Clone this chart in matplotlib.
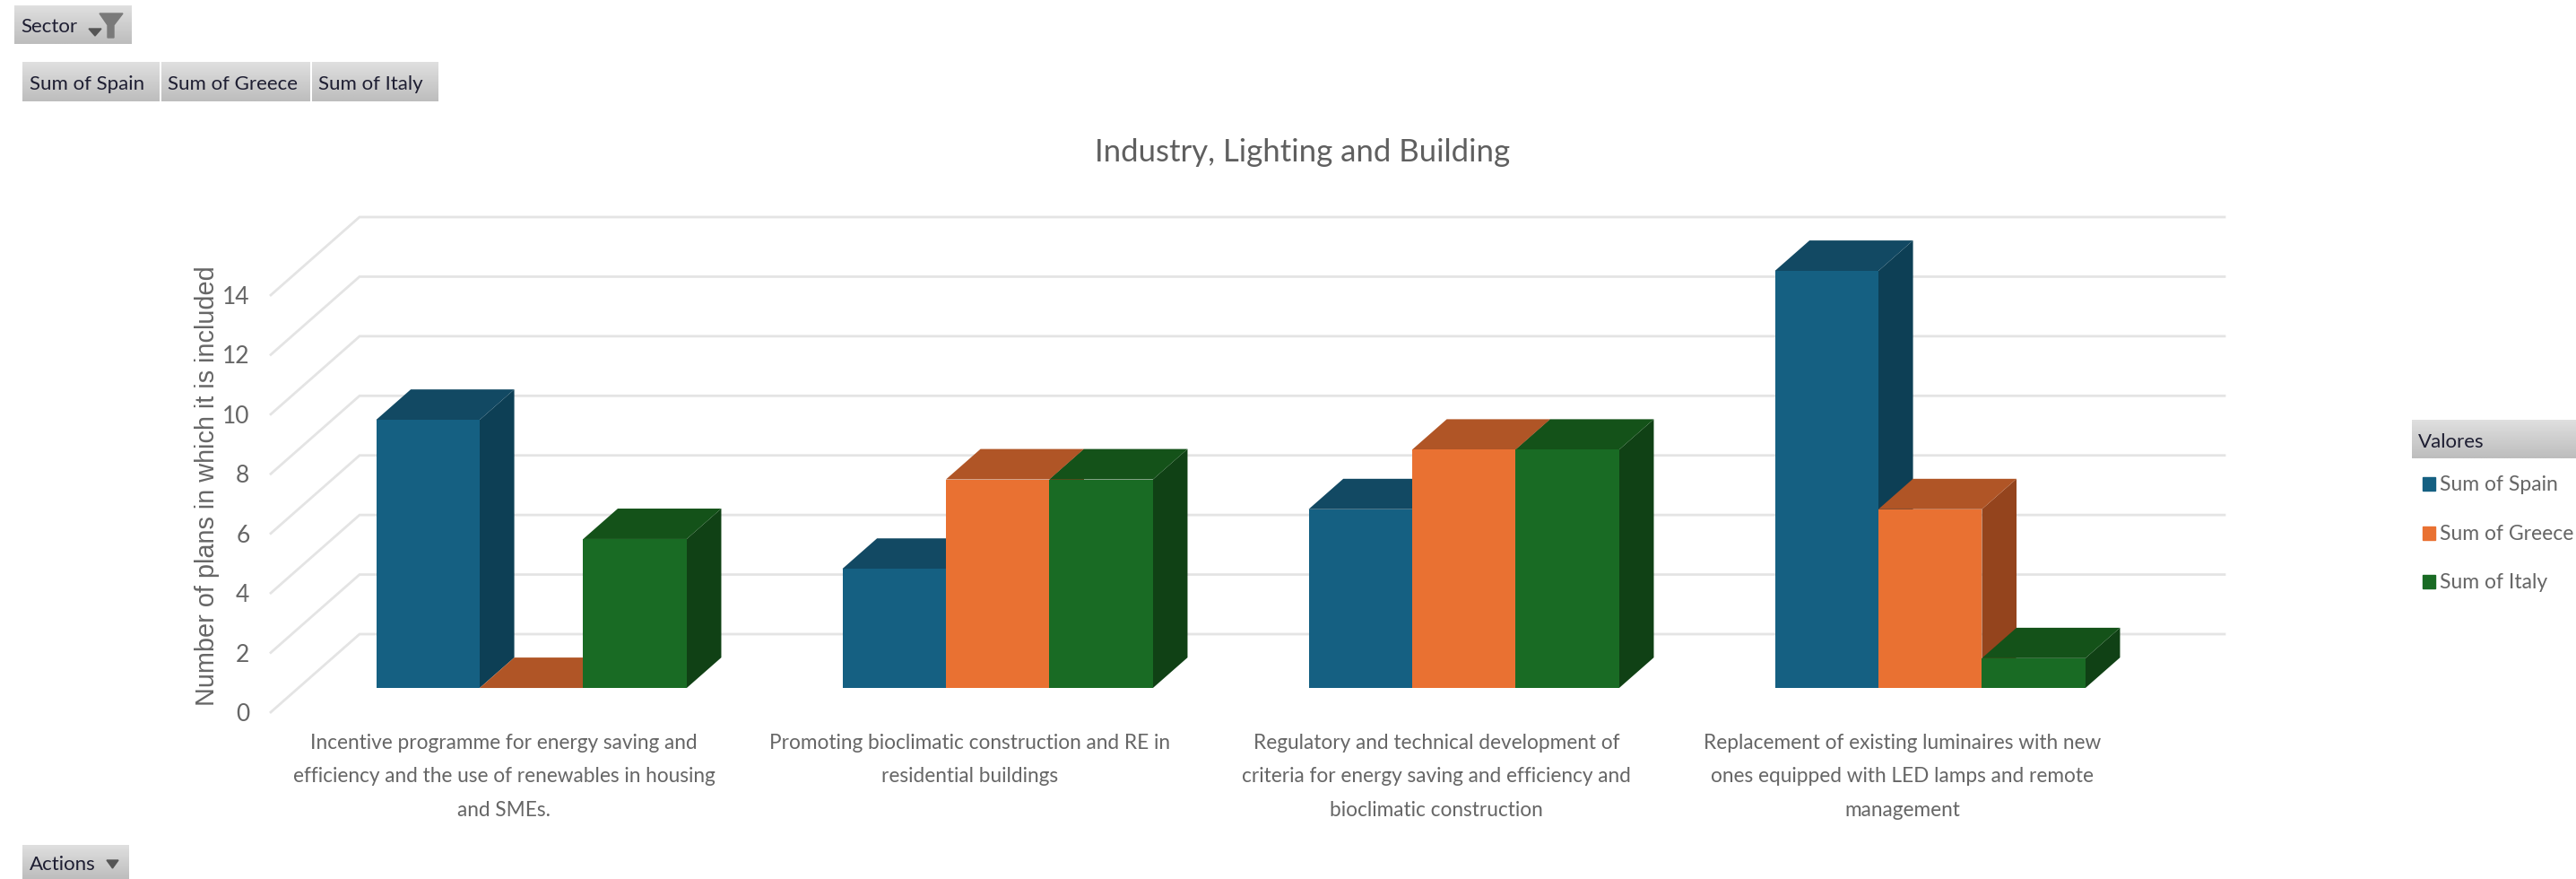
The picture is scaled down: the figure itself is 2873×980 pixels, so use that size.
import numpy as np
import matplotlib
matplotlib.use("Agg")
import matplotlib.pyplot as plt
from matplotlib.patches import Polygon, Rectangle

# Pivot data: number of plans including each action
categories = [
    "Incentive programme for energy saving and\nefficiency and the use of renewables in housing\nand SMEs.",
    "Promoting bioclimatic construction and RE in\nresidential buildings",
    "Regulatory and technical development of\ncriteria for energy saving and efficiency and\nbioclimatic construction",
    "Replacement of existing luminaires with new\nones equipped with LED lamps and remote\nmanagement",
]
spain = [9, 4, 6, 14]
greece = [0, 7, 8, 6]
italy = [5, 7, 8, 1]
series_names = ["Sum of Spain", "Sum of Greece", "Sum of Italy"]
y_ticks = [0, 2, 4, 6, 8, 10, 12, 14]

# front, top and side shades of each 3-D column
front_colors = ["#156082", "#E97132", "#196B24"]
top_colors = ["#124963", "#B05526", "#145219"]
side_colors = ["#0D3F55", "#94441D", "#104115"]

W, H = 2873, 980
NARROW = ["Lato", "DejaVu Sans"]
GREY = "#666666"
BTN_TEXT = "#1E1E32"

fig = plt.figure(figsize=(W / 100, H / 100), dpi=100, facecolor="white")

# Pixel-space layer for the pivot-field buttons and legend
ui = fig.add_axes([0, 0, 1, 1], zorder=3)
ui.set_xlim(0, W)
ui.set_ylim(H, 0)
ui.axis("off")
ui.patch.set_alpha(0)


def button(x0, x1, y0, y1, label, text_x, size=16):
    shade = np.linspace(0.875, 0.74, 64).reshape(-1, 1)
    ui.imshow(shade, extent=(x0, x1, y1, y0), cmap="gray", vmin=0, vmax=1,
              aspect="auto", zorder=1, interpolation="bilinear")
    ui.text(text_x, (y0 + y1) / 2 + 3, label, fontsize=size, family=NARROW, color=BTN_TEXT,
            ha="left", va="center", zorder=2)


button(16, 147, 6, 49, "Sector", 23)
ui.add_patch(Polygon([[99, 32], [113, 32], [106, 40]], color="#555555", zorder=2))
ui.add_patch(Polygon([[111, 15], [137, 15], [127, 28], [127, 42], [120, 42], [120, 28]],
                     color="#7A7A7A", zorder=2))
button(25, 178, 69, 113, series_names[0], 33)
button(180, 346, 69, 113, series_names[1], 187)
button(348, 489, 69, 113, series_names[2], 355)
button(25, 144, 942, 980, "Actions", 33)
ui.add_patch(Polygon([[119, 959], [132, 959], [125.5, 968]], color="#555555", zorder=2))
button(2690, 2873, 468, 511, "Valores", 2697)

legend_centers = [539, 594, 648]
for name, color, yc in zip(series_names, front_colors, legend_centers):
    ui.add_patch(Rectangle((2702, yc - 7.5), 14, 15, color=color, zorder=2))
    ui.text(2721, yc + 1, name, fontsize=16.5, family=NARROW, color=GREY, ha="left", va="center")
ui.set_xlim(0, W)
ui.set_ylim(H, 0)

# Main axes sit in the front plane of the 3-D box
left, right = 302, 2382
bottom_px, top_px = 794, 329
ax = fig.add_axes([left / W, 1 - bottom_px / H, (right - left) / W, (bottom_px - top_px) / H])
ax.set_xlim(-0.5, 3.5)
ax.set_ylim(0, 14)
for spine in ax.spines.values():
    spine.set_visible(False)
ax.patch.set_alpha(0)

# Oblique projection: one unit of depth moves a point right and up, in data units
DX = 99 / ((right - left) / 4)
DY = 87 / ((bottom_px - top_px) / 14)
BAR_FRONT, BAR_BACK = 0.31, 0.70
BAR_W = 0.222


def project(x, v, d):
    return x + d * DX, v + d * DY


# Floor-to-wall gridlines
GRID = "#E4E4E4"
for v in y_ticks:
    xs, ys = zip(project(-0.5, v, 0), project(-0.5, v, 1), project(3.5, v, 1))
    ax.plot(xs, ys, color=GRID, lw=2.0, clip_on=False, zorder=1, solid_joinstyle="miter")

# Columns, painted left to right so nearer faces overlap correctly
z = 2
for i in range(len(categories)):
    for j, values in enumerate([spain, greece, italy]):
        v = values[i]
        x0 = i + (j - 1.5) * BAR_W
        x1 = x0 + BAR_W
        side = [project(x1, 0, BAR_FRONT), project(x1, 0, BAR_BACK),
                project(x1, v, BAR_BACK), project(x1, v, BAR_FRONT)]
        top = [project(x0, v, BAR_FRONT), project(x1, v, BAR_FRONT),
               project(x1, v, BAR_BACK), project(x0, v, BAR_BACK)]
        ax.add_patch(Polygon(side, color=side_colors[j], lw=0, clip_on=False, zorder=z))
        ax.add_patch(Polygon(top, color=top_colors[j], lw=0, clip_on=False, zorder=z))
        fx, fy = project(x0, 0, BAR_FRONT)
        ax.bar(fx, v, width=BAR_W, bottom=fy, align="edge", color=front_colors[j],
               lw=0, clip_on=False, zorder=z)
        z += 1

ax.set_xticks(range(len(categories)))
ax.set_xticklabels(categories, fontsize=16.3, family=NARROW, color=GREY, linespacing=1.98)
ax.set_yticks(y_ticks)
ax.set_yticklabels([str(t) for t in y_ticks], fontsize=19, family=NARROW, color=GREY,
                   va="center_baseline")
ax.tick_params(axis="both", length=0)
ax.tick_params(axis="x", pad=17)
ax.tick_params(axis="y", pad=17)

fig.text(231 / W, 1 - 542 / H, "Number of plans in which it is included", rotation=90,
         fontsize=20.8, family=["Liberation Sans", "DejaVu Sans"], color=GREY, ha="center", va="center")
fig.text(1453 / W, 1 - 170 / H, "Industry, Lighting and Building", fontsize=25, family=NARROW,
         color="#5F5F5F", ha="center", va="center")

fig.savefig("out.png", dpi=100)
